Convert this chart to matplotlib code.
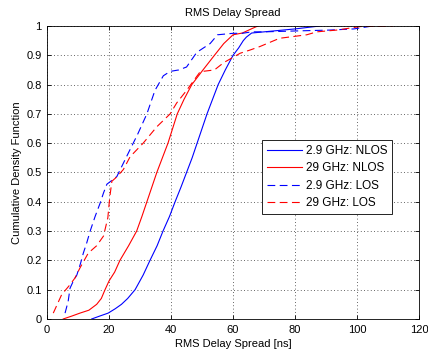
import matplotlib
matplotlib.use("Agg")
import matplotlib.pyplot as plt
import numpy as np

plt.rcParams['font.family'] = ['Liberation Sans', 'DejaVu Sans']
plt.rcParams['font.size'] = 8

# 2.9 GHz NLOS
nlos29_x = [14.4, 17, 19.7, 22, 24, 26, 28.4, 31, 33.2, 35.5, 37.4, 39.5, 41.3, 43.2, 45,
            46.8, 48.4, 50, 51.6, 53.4, 55.2, 57.5, 60, 61.8, 63.3, 64.3, 66, 70, 75, 80, 88]
nlos29_y = [0.0, 0.01, 0.02, 0.035, 0.05, 0.07, 0.1, 0.15, 0.2, 0.25, 0.3, 0.35, 0.4, 0.45, 0.5,
            0.55, 0.6, 0.65, 0.7, 0.75, 0.8, 0.85, 0.9, 0.925, 0.95, 0.962, 0.976, 0.98, 0.985, 0.99, 1.0]

# 29 GHz NLOS
nlos290_x = [5.2, 8, 10.6, 13.5, 16, 17.5, 18.7, 20, 21.8, 23.5, 26.3, 28.9, 30.6, 32.2, 33.8,
             35.4, 37.2, 39, 40.5, 42, 44.2, 46.7, 50.3, 54, 57, 60, 63, 66.5, 68]
nlos290_y = [0.0, 0.01, 0.02, 0.03, 0.05, 0.07, 0.1, 0.13, 0.16, 0.2, 0.25, 0.3, 0.35, 0.4, 0.45,
             0.5, 0.55, 0.6, 0.65, 0.7, 0.75, 0.8, 0.85, 0.9, 0.94, 0.97, 0.976, 0.993, 1.0]

# 2.9 GHz LOS
los29_x = [5.8, 6.8, 7.4, 8.5, 9.6, 10.8, 11.7, 12.8, 13.9, 15.5, 17.1, 18.2, 19.3, 22.5, 24.3,
           26.2, 29.2, 32.2, 34.8, 37.5, 39.7, 42.5, 45, 48.3, 52.6, 55, 60, 63, 66, 70, 80, 91, 99, 105]
los29_y = [0.02, 0.06, 0.105, 0.13, 0.15, 0.19, 0.225, 0.26, 0.3, 0.35, 0.395, 0.43, 0.46, 0.486, 0.525,
           0.566, 0.63, 0.70, 0.78, 0.83, 0.845, 0.85, 0.86, 0.91, 0.94, 0.97, 0.975, 0.975, 0.98, 0.98,
           0.983, 0.986, 0.99, 1.0]

# 29 GHz LOS
los290_x = [2, 4.7, 7.4, 9, 10.6, 13.3, 16, 18.2, 19.6, 20.2, 20.9, 22.5, 24.6, 26.8, 31, 35.4,
            39.7, 41.8, 45, 49.4, 54, 57, 62.3, 65.5, 68.7, 75, 83.8, 87, 93.4, 101, 111.6]
los290_y = [0.02, 0.083, 0.117, 0.14, 0.174, 0.225, 0.25, 0.283, 0.345, 0.413, 0.47, 0.485, 0.51, 0.554,
            0.6, 0.656, 0.70, 0.737, 0.78, 0.844, 0.85, 0.875, 0.907, 0.918, 0.93, 0.958, 0.97, 0.98,
            0.986, 0.998, 1.0]

fig = plt.figure(figsize=(4.28, 3.56), dpi=100)
ax = fig.add_axes([0.11, 0.104, 0.869, 0.823])

dash = (0, (7, 4))
ax.plot(nlos29_x, nlos29_y, color='b', lw=0.8, label='2.9 GHz: NLOS')
ax.plot(nlos290_x, nlos290_y, color='r', lw=0.8, label='29 GHz: NLOS')
ax.plot(los29_x, los29_y, color='b', lw=0.8, ls=dash, label='2.9 GHz: LOS')
ax.plot(los290_x, los290_y, color='r', lw=0.8, ls=dash, label='29 GHz: LOS')

ax.set_xlim(0, 120)
ax.set_ylim(0, 1)
ax.set_xticks(np.arange(0, 121, 20))
yt = np.arange(0, 1.01, 0.1)
ax.set_yticks(yt)
ax.set_yticklabels(['0'] + ['%.1f' % v for v in yt[1:-1]] + ['1'])
ax.tick_params(direction='in', length=3, width=0.6, top=True, right=True, pad=4)
ax.grid(True, ls=(0, (1, 3)), color='#333333', lw=0.6)
for s in ax.spines.values():
    s.set_linewidth(0.6)

ax.set_title('RMS Delay Spread', fontsize=8, pad=7)
ax.set_xlabel('RMS Delay Spread [ns]', labelpad=3)
ax.set_ylabel('Cumulative Density Function', labelpad=3)

leg = ax.legend(loc='upper left', bbox_to_anchor=(0.562, 0.63), fancybox=False,
                edgecolor='k', framealpha=1, handlelength=3, borderpad=0.4,
                labelspacing=0.45, handletextpad=0.3, fontsize=8.5)
leg.get_frame().set_linewidth(0.6)

fig.savefig('out.png', dpi=100)
